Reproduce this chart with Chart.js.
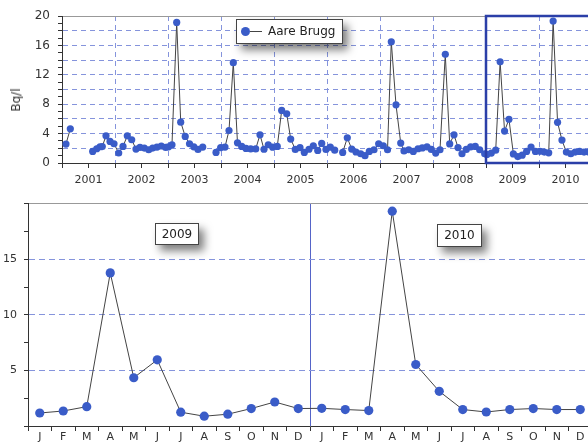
<!DOCTYPE html>
<html><head><meta charset="utf-8">
<script src="https://cdn.jsdelivr.net/npm/chart.js@4.4.1/dist/chart.umd.min.js"></script>
<style>
html,body{margin:0;padding:0;background:#fff;overflow:hidden;width:588px;height:443px;position:relative;}
#wTop{position:absolute;left:0;top:0;width:600px;height:190px;}
#wBot{position:absolute;left:0;top:190px;width:600px;height:253px;}
.box{position:absolute;background:#fff;border:1px solid #444;font-family:"DejaVu Sans",sans-serif;font-size:12px;color:#222;box-shadow:5px 6px 8px rgba(0,0,0,0.5);box-sizing:border-box;text-align:center;}
#ylab{position:absolute;left:16px;top:100px;transform:translate(-50%,-50%) rotate(-90deg);font-family:"DejaVu Sans",sans-serif;font-size:12px;color:#333;white-space:nowrap;}
</style></head>
<body>
<div id="wTop"><canvas id="c1" width="600" height="190"></canvas></div>
<div id="wBot"><canvas id="c2" width="600" height="253"></canvas></div>
<div id="ylab">Bq/l</div>
<div class="box" id="legend" style="left:236px;top:19px;width:107px;height:25px;">
  <span style="position:absolute;left:4px;top:7px;width:9px;height:9px;border-radius:50%;background:#3a5cc8;"></span>
  <span style="position:absolute;left:13px;top:11px;width:12px;height:1px;background:#444;"></span>
  <span style="position:absolute;left:31px;top:4px;line-height:14px;">Aare Brugg</span>
</div>
<div class="box" style="left:155px;top:223px;width:44px;height:22px;line-height:20px;">2009</div>
<div class="box" style="left:437px;top:224px;width:45px;height:23px;line-height:21px;">2010</div>
<script>
// ---- data ----
const sampleDates = [2001.075,2001.157,2001.40,2001.579,2001.655,2001.717,2001.760,2001.830,2001.906,2001.981,
 2002.070,2002.151,2002.232,2002.315,2002.396,2002.472,2002.553,2002.636,2002.711,2002.792,2002.874,2002.957,
 2003.009,2003.075,2003.164,2003.240,2003.325,2003.406,2003.487,2003.566,2003.655,2003.78,2003.906,2003.994,
 2004.075,2004.151,2004.232,2004.311,2004.391,2004.472,2004.560,2004.655,2004.736,2004.811,2004.892,2004.975,
 2005.062,2005.145,2005.240,2005.315,2005.402,2005.491,2005.572,2005.660,2005.742,2005.825,2005.900,2005.981,
 2006.062,2006.145,2006.22,2006.296,2006.383,2006.466,2006.547,2006.636,2006.717,2006.798,2006.887,2006.975,
 2007.062,2007.142,2007.213,2007.302,2007.391,2007.453,2007.542,2007.628,2007.717,2007.798,2007.887,2007.968,
 2008.051,2008.132,2008.232,2008.315,2008.396,2008.472,2008.547,2008.628,2008.711,2008.798,2008.881,2008.975];
const sampleValues = [2.58,4.65,null,1.57,1.94,2.21,2.24,3.70,2.93,2.62,
 1.36,2.25,3.70,3.16,1.90,2.12,2.03,1.80,2.03,2.17,2.31,2.12,
 2.20,2.48,19.13,5.56,3.61,2.62,2.20,1.85,2.17,null,1.44,2.10,
 2.17,4.42,13.65,2.75,2.26,1.98,1.92,1.92,3.84,1.87,2.48,2.15,
 2.26,7.15,6.69,3.26,1.85,2.08,1.44,1.87,2.35,1.71,2.66,1.85,
 2.15,1.75,null,1.44,3.43,1.90,1.50,1.26,0.99,1.57,1.80,2.62,
 2.35,1.80,16.5,7.91,2.71,1.64,1.80,1.57,1.94,2.05,2.20,1.85,
 1.35,1.80,14.79,2.60,3.84,2.10,1.26,1.85,2.20,2.26,1.80,1.26];
const monthLabels = ['J','F','M','A','M','J','J','A','S','O','N','D'];
const zoomYears = [2009, 2010];
const values2009 = [1.17,1.35,1.74,13.77,4.34,5.95,1.24,0.88,1.06,1.57,2.16,1.57];
const values2010 = [1.59,1.48,1.39,19.32,5.53,3.12,1.48,1.26,1.48,1.57,1.48,1.48];
const topYearRange = [2001, 2011];
const yRange = [0, 20];

// ---- styles ----
const FONT = 'DejaVu Sans';
const POINT = '#3a5cc8';
const LINE = '#444';
const GRID = '#8594dc';
const AXIS = '#333';

// ---- top overview chart ----
const zoomVals = [values2009, values2010];
const topPoints = sampleDates.map((d,i)=>({x:d, y:sampleValues[i]}));
zoomYears.forEach((yr,k)=>zoomVals[k].forEach((v,m)=>topPoints.push({x: yr + (m+0.2)/12, y: v})));
const boxPts = [
  {x: topYearRange[1], y: yRange[1]}, {x: zoomYears[0], y: yRange[1]},
  {x: zoomYears[0], y: yRange[0]}, {x: topYearRange[1], y: yRange[0]}
];

new Chart(document.getElementById('c1'), {
  type: 'line',
  data: { datasets: [
    { data: topPoints, borderColor: LINE, borderWidth: 1, pointRadius: 3.6, pointBackgroundColor: POINT,
      pointBorderColor: POINT, pointBorderWidth: 0, tension: 0, spanGaps: false, order: 2 },
    { data: boxPts, borderColor: '#2b3fa8', borderWidth: 2.5, pointRadius: 0, tension: 0, clip: false, order: 1 }
  ]},
  options: {
    responsive: false, animation: false, events: [],
    layout: { padding: { top: 16, right: 8, left: 0, bottom: 0 } },
    plugins: { legend: { display: false }, tooltip: { enabled: false } },
    scales: {
      x: { type: 'linear', position: 'bottom', min: topYearRange[0], max: topYearRange[1],
        ticks: { stepSize: 0.5, autoSkip: false, maxRotation: 0, padding: 6, color: AXIS,
          font: { family: FONT, size: 11 },
          callback: v => (Math.abs(v % 1 - 0.5) < 1e-6) ? String(Math.floor(v)) : '' },
        grid: { color: c => (c.tick && Number.isInteger(c.tick.value) && c.tick.value > topYearRange[0]) ? GRID : 'rgba(0,0,0,0)',
          tickLength: 5, tickColor: AXIS, lineWidth: 1 },
        border: { color: AXIS, width: 1, dash: [5, 4] },
        afterFit: s => { s.height = 27; } },
      xTop: { type: 'linear', position: 'top', min: topYearRange[0], max: topYearRange[1],
        ticks: { display: false }, grid: { display: false, drawTicks: false },
        border: { display: true, color: '#999' }, afterFit: s => { s.height = 0; } },
      y: { min: yRange[0], max: yRange[1],
        ticks: { stepSize: 1, autoSkip: false, padding: 8, color: AXIS, font: { family: FONT, size: 12 },
          callback: v => (v % 4 === 0) ? String(v) : '' },
        grid: { color: c => (c.tick && c.tick.value % 2 === 0 && c.tick.value > yRange[0] && c.tick.value < yRange[1]) ? GRID : 'rgba(0,0,0,0)',
          tickLength: 4, tickColor: AXIS },
        border: { color: AXIS, width: 1, dash: [5, 4] },
        afterFit: s => { s.width = 62; } }
    }
  }
});

// ---- bottom detail chart ----
const detailLabels = zoomYears.flatMap(() => monthLabels);
const detailValues = values2009.concat(values2010);

new Chart(document.getElementById('c2'), {
  type: 'line',
  data: { labels: detailLabels, datasets: [
    { data: detailValues, borderColor: LINE, borderWidth: 1, pointRadius: 4.6, pointBackgroundColor: POINT,
      pointBorderColor: POINT, pointBorderWidth: 0, tension: 0 }
  ]},
  options: {
    responsive: false, animation: false, events: [],
    layout: { padding: { top: 13, right: 8, left: 0, bottom: 0 } },
    plugins: { legend: { display: false }, tooltip: { enabled: false } },
    scales: {
      x: { type: 'category', offset: true,
        ticks: { autoSkip: false, maxRotation: 0, padding: 0, color: AXIS, font: { family: FONT, size: 11 } },
        grid: { offset: true, color: c => (c.index === monthLabels.length) ? '#5564c8' : 'rgba(0,0,0,0)',
          tickLength: 5, tickColor: AXIS, lineWidth: 1 },
        border: { color: AXIS, width: 1 },
        afterFit: s => { s.height = 17; } },
      xTop: { type: 'category', position: 'top', labels: detailLabels, offset: true,
        ticks: { display: false }, grid: { display: false, drawTicks: false },
        border: { display: true, color: '#999' }, afterFit: s => { s.height = 0; } },
      y: { min: yRange[0], max: yRange[1],
        ticks: { stepSize: 2.5, autoSkip: false, padding: 7, color: AXIS, font: { family: FONT, size: 11 },
          callback: v => (v % 5 === 0 && v > yRange[0] && v < yRange[1]) ? String(v) : '' },
        grid: { color: c => (c.tick && c.tick.value % 5 === 0 && c.tick.value > yRange[0] && c.tick.value < yRange[1]) ? GRID : 'rgba(0,0,0,0)',
          tickLength: 4, tickColor: AXIS },
        border: { color: AXIS, width: 1, dash: [6, 4] },
        afterFit: s => { s.width = 28; } }
    }
  }
});
</script>
</body></html>
